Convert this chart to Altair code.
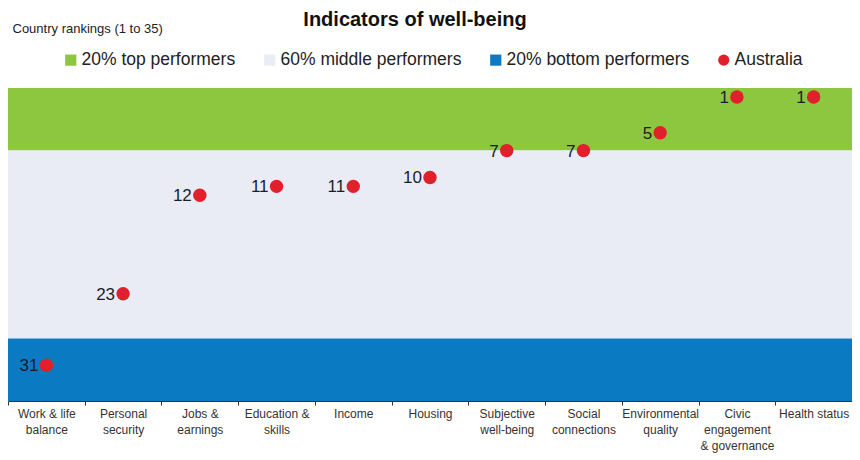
import altair as alt
import pandas as pd

categories = [
    "Work & life\nbalance", "Personal\nsecurity", "Jobs &\nearnings", "Education &\nskills",
    "Income", "Housing", "Subjective\nwell-being", "Social\nconnections",
    "Environmental\nquality", "Civic\nengagement\n& governance", "Health status",
]
ranks = [31, 23, 12, 11, 11, 10, 7, 7, 5, 1, 1]

band_names = ["20% top performers", "60% middle performers", "20% bottom performers"]
band_start = [0, 7, 28]
band_end = [7, 28, 35]
series_name = "Australia"

legend_domain = band_names + [series_name]
legend_colors = ["#8DC63F", "#EAECF5", "#0A7BC2", "#E0202B"]
legend_shapes = ["square", "square", "square", "circle"]

bands = pd.DataFrame({"series": band_names, "start": band_start, "end": band_end})
points = pd.DataFrame({"category": categories, "rank": ranks, "series": [series_name] * len(ranks)})

color_scale = alt.Scale(domain=legend_domain, range=legend_colors)
y_scale = alt.Scale(domain=[0, 35], reverse=True, nice=False, zero=False)
y_axis = alt.Axis(
    title="Country rankings (1 to 35)", labels=False, ticks=False, domain=False, grid=False,
    titleAngle=0, titleAlign="left", titleBaseline="top", titleX=4, titleY=-66,
    titleFontSize=13, titleFontWeight="normal", titleColor="#222222",
)
x_axis = alt.Axis(
    title=None, labelAngle=0, labelExpr="split(datum.label, '\\n')", labelFontSize=12,
    labelLineHeight=16, labelBaseline="top", labelColor="#333333", tickBand="extent",
    tickSize=4, tickColor="#333333", domainColor="#333333", labelPadding=3, grid=False,
)
legend = alt.Legend(
    title=None, orient="none", direction="horizontal", legendX=54, legendY=-37,
    labelFontSize=17.5, labelColor="#222222", symbolSize=125, columnPadding=25,
    labelOffset=2, symbolStrokeWidth=0, padding=0, labelLimit=0,
)

band_layer = alt.Chart(bands).mark_rect().encode(
    y=alt.Y("start:Q", scale=y_scale, axis=y_axis),
    y2="end:Q",
    color=alt.Color("series:N", scale=color_scale, legend=legend),
)

x_enc = alt.X("category:N", sort=categories, scale=alt.Scale(paddingInner=0, paddingOuter=0), axis=x_axis)

point_layer = alt.Chart(points).mark_point(filled=True, opacity=1, size=180).encode(
    x=x_enc,
    y=alt.Y("rank:Q", scale=y_scale, axis=y_axis),
    color=alt.Color("series:N", scale=color_scale, legend=legend),
    shape=alt.Shape("series:N", scale=alt.Scale(domain=legend_domain, range=legend_shapes), legend=legend),
)

text_layer = alt.Chart(points).mark_text(
    align="right", baseline="middle", dx=-8, dy=1, fontSize=17, color="#1c1c2c"
).encode(
    x=x_enc,
    y=alt.Y("rank:Q", scale=y_scale, axis=y_axis),
    text="rank:Q",
)

chart = alt.layer(band_layer, point_layer, text_layer).properties(
    width=844, height=313,
    title=alt.TitleParams("Indicators of well-being", fontSize=20, fontWeight="bold",
                          anchor="middle", color="#111111", offset=-8, dx=-15),
    autosize=alt.AutoSizeParams(type="none"),
    padding={"left": 0, "top": 80, "right": 0, "bottom": 52},
).configure(font="Liberation Sans").configure_view(stroke=None)

chart.save("out.html", embed_options={"renderer": "svg", "actions": False})
